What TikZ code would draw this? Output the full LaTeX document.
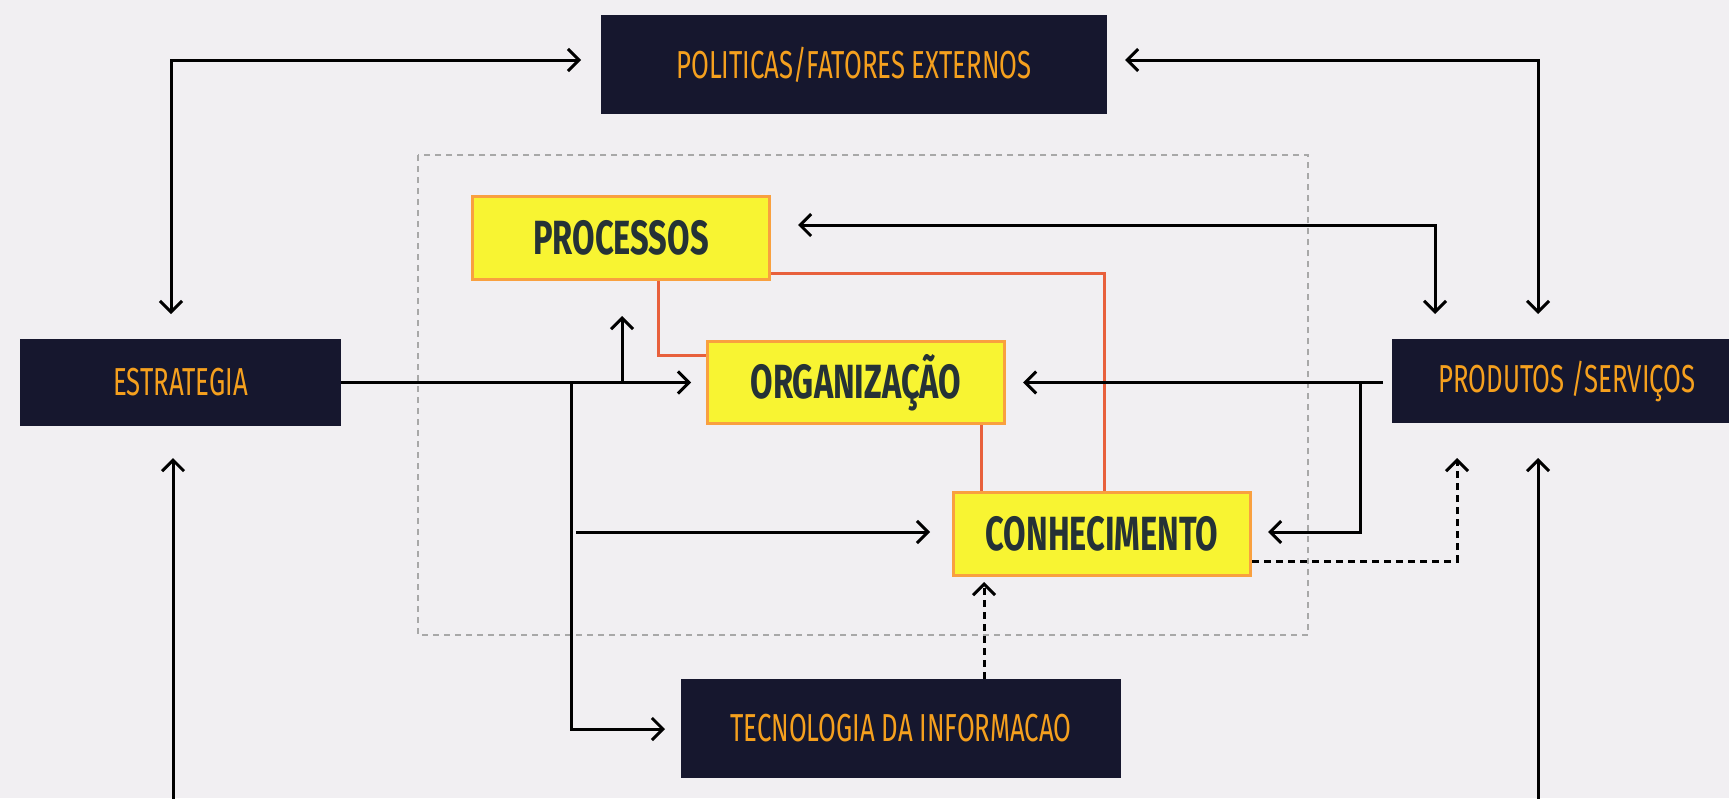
\documentclass[tikz,border=0pt]{standalone}
\usepackage{fontspec}
\usetikzlibrary{arrows.meta}
\newfontfamily\lightf[FakeStretch=0.66]{Fira Sans}
\newfontfamily\boldf[FakeStretch=0.68]{Fira Sans}
\definecolor{bgc}{HTML}{F1EFF2}
\definecolor{navy}{HTML}{16172E}
\definecolor{orangetxt}{HTML}{F5A01E}
\definecolor{yel}{HTML}{F8F432}
\definecolor{yelborder}{HTML}{F9A03F}
\definecolor{redl}{HTML}{E8603C}
\definecolor{darktxt}{HTML}{253236}
\definecolor{grayd}{HTML}{A8A8A8}
\tikzset{
  darkbox/.style={fill=navy, draw=none, inner sep=0pt, text=orangetxt,
    font=\lightf\fontsize{39}{44}\selectfont},
  yelbox/.style={fill=yel, draw=yelborder, line width=3pt, inner sep=0pt,
    text=darktxt, font=\boldf\bfseries\fontsize{48}{52}\selectfont},
  conn/.style={line width=3pt, draw=black},
  onearrow/.style={conn, -{Straight Barb[length=11pt,width=22pt]}},
  twoarrow/.style={conn, {Straight Barb[length=11pt,width=22pt]}-{Straight Barb[length=11pt,width=22pt]}},
  dasharrow/.style={onearrow, dash pattern=on 7pt off 5pt},
  redline/.style={line width=3pt, draw=redl},
  frame/.style={draw=grayd, line width=2pt, dash pattern=on 6pt off 5pt}
}
\begin{document}
\begin{tikzpicture}[x=1pt,y=-1pt]
\fill[bgc] (0,0) rectangle (1729,798);
\useasboundingbox (0,0) rectangle (1729,798);

% dashed frame
\draw[frame] (418,155) rectangle (1308,635);

% nodes
\node[darkbox, minimum width=506pt, minimum height=99pt] (pol) at (854,64.5) {POLITICAS/FATORES EXTERNOS};
\node[darkbox, minimum width=321pt, minimum height=87pt] (est) at (180.5,382.5) {ESTRATEGIA};
\node[darkbox, minimum width=350pt, minimum height=84pt] (prod) at (1567,381) {PRODUTOS /SERVIÇOS};
\node[darkbox, minimum width=440pt, minimum height=99pt] (tec) at (901,728.5) {TECNOLOGIA DA INFORMACAO};
\node[yelbox, minimum width=297pt, minimum height=83pt] (proc) at (621,238) {PROCESSOS};
\node[yelbox, minimum width=297pt, minimum height=82pt] (org) at (856,382.5) {ORGANIZAÇÃO};
\node[yelbox, minimum width=297pt, minimum height=83pt] (con) at (1102,534) {CONHECIMENTO};

% red links
\draw[redline] (proc.south -| 658,0) |- (org.west |- 0,355);
\draw[redline] (proc.east |- 0,273) -| (con.north -| 1104,0);
\draw[redline] (org.south -| 981,0) -- (con.north -| 981,0);

% free ends
\coordinate (polL) at (581,60);
\coordinate (polR) at (1125,60);
\coordinate (estT) at (171,314);
\coordinate (prodT1) at (1435,314);
\coordinate (prodT2) at (1538,314);
\coordinate (estB) at (173,458);
\coordinate (estBot) at (173,805);
\coordinate (prodB) at (1538,458);
\coordinate (prodBot) at (1538,805);
\coordinate (procR) at (798,225);
\coordinate (orgL) at (691,382.5);
\coordinate (orgR) at (1023,382.5);
\coordinate (conL) at (930,532);
\coordinate (conR) at (1268,532);
\coordinate (conB) at (984,582);
\coordinate (tecL) at (665,729);
\coordinate (prodB2) at (1457,458);
\coordinate (prodL) at (1383,382.5);
\coordinate (split1) at (571,382.5);
\coordinate (split2) at (622,382.5);
\coordinate (split3) at (1360,382.5);

% connectors
\draw[twoarrow] (polL) -| (estT);
\draw[twoarrow] (polR) -| (prodT2);
\draw[twoarrow] (procR) -| (prodT1);
\draw[onearrow] (estBot) -- (estB);
\draw[onearrow] (prodBot) -- (prodB);
\draw[onearrow] (est.east) -- (orgL);
\draw[onearrow] (split2) -- (622,316);
\draw[onearrow] (split1) |- (tecL);
\draw[onearrow] (576,532) -- (conL);
\draw[onearrow] (prodL) -- (orgR);
\draw[onearrow] (split3) |- (conR);
\draw[dasharrow] (con.east |- 0,561) -| (prodB2);
\draw[dasharrow] (tec.north -| conB) -- (conB);
\end{tikzpicture}
\end{document}
